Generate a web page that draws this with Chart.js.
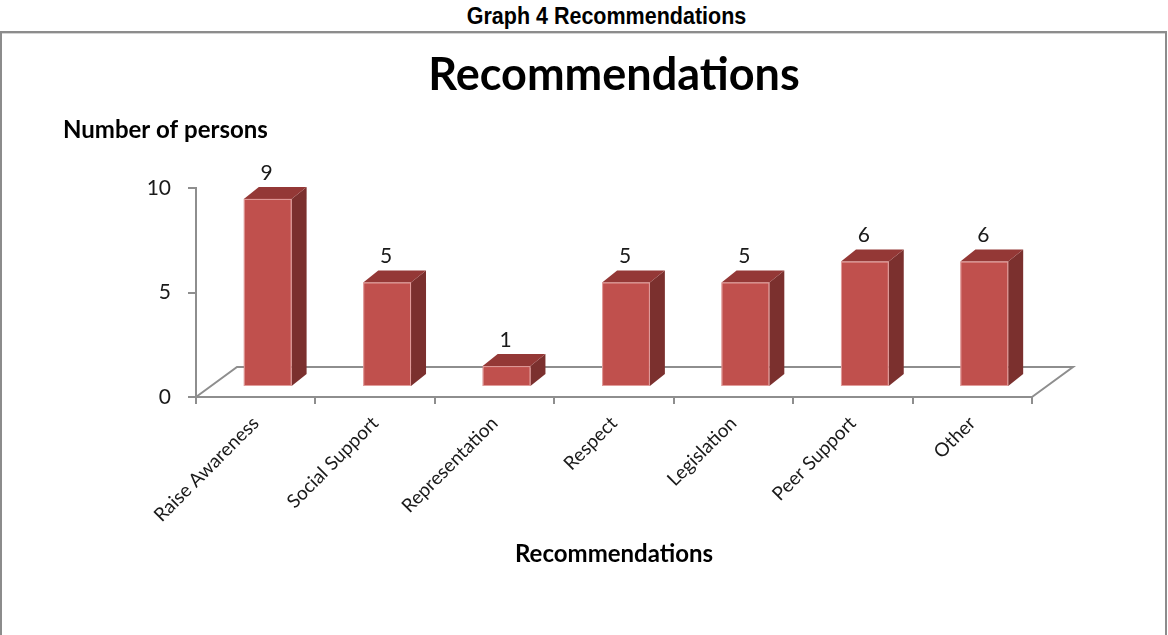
<!DOCTYPE html>
<html>
<head>
<meta charset="utf-8">
<title>Graph 4 Recommendations</title>
<script src="https://cdn.jsdelivr.net/npm/chart.js@4.4.0/dist/chart.umd.min.js"></script>
<style>
  body { margin: 0; background: #fff; }
  #head {
    position: absolute; left: 45px; top: 4px; width: 1123px;
    text-align: center; line-height: 32px;
    font: bold 21.5px "Liberation Sans", Arial, sans-serif; color: #000;
    transform: scaleY(1.12);
  }
  #box {
    position: absolute; left: 0; top: 31px; width: 1167px; height: 610px;
    box-sizing: border-box; border: 2px solid #8c8c8c; border-bottom: 0;
    box-shadow: inset 0 1px 0 #d4d4d4;
  }
  #c { position: absolute; left: 0; top: 0; }
</style>
</head>
<body>
<div id="head">Graph 4 Recommendations</div>
<div id="box"><canvas id="c" width="1163" height="602"></canvas></div>
<script>
const categories = ['Raise Awareness', 'Social Support', 'Representation', 'Respect', 'Legislation', 'Peer Support', 'Other'];
const persons = [9, 5, 1, 5, 5, 6, 6];
const yTicks = [0, 5, 10];

const FONT = 'Lato, "Open Sans", sans-serif';
const axisGrey = '#8e8e8e';

// floor depth, bar shift into the floor, bar thickness
const floorDepth = { dx: 41, dy: -30 };
const barShift = { dx: 12, dy: -10 };
const barDepth = { dx: 15, dy: -12 };

function poly(ctx, pts, fill) {
  ctx.beginPath();
  ctx.moveTo(pts[0][0], pts[0][1]);
  for (let i = 1; i < pts.length; i++) ctx.lineTo(pts[i][0], pts[i][1]);
  ctx.closePath();
  ctx.fillStyle = fill;
  ctx.fill();
}

const box3d = {
  id: 'box3d',
  beforeDatasetsDraw(chart) {
    const { ctx, chartArea: a } = chart;
    ctx.save();
    ctx.strokeStyle = axisGrey;
    ctx.lineWidth = 2;
    ctx.beginPath();
    ctx.moveTo(a.left, a.bottom);
    ctx.lineTo(a.left + floorDepth.dx, a.bottom + floorDepth.dy);
    ctx.lineTo(a.right + floorDepth.dx, a.bottom + floorDepth.dy);
    ctx.lineTo(a.right, a.bottom);
    ctx.stroke();
    ctx.restore();
  },
  afterDatasetsDraw(chart) {
    const ctx = chart.ctx;
    const meta = chart.getDatasetMeta(0);
    ctx.save();
    meta.data.forEach((bar, i) => {
      const p = bar.getProps(['x', 'y', 'base', 'width'], true);
      const l = p.x - p.width / 2 + barShift.dx;
      const r = p.x + p.width / 2 + barShift.dx;
      const t = p.y + barShift.dy;
      const b = p.base + barShift.dy;
      // side
      poly(ctx, [[r, t], [r + barDepth.dx, t + barDepth.dy], [r + barDepth.dx, b + barDepth.dy], [r, b]], '#7b302e');
      // top
      poly(ctx, [[l, t], [l + barDepth.dx, t + barDepth.dy], [r + barDepth.dx, t + barDepth.dy], [r, t]], '#943836');
      // front
      ctx.fillStyle = '#c0504d';
      ctx.fillRect(l, t, r - l, b - t);
      ctx.strokeStyle = 'rgba(240,190,188,0.7)';
      ctx.lineWidth = 1;
      ctx.strokeRect(l + 0.5, t + 0.5, r - l - 1, b - t - 1);
      // value label
      ctx.fillStyle = '#1a1a1a';
      ctx.font = '21px ' + FONT;
      ctx.textAlign = 'center';
      ctx.textBaseline = 'middle';
      ctx.fillText(String(persons[i]), (l + r) / 2 - 1, t - 26);
    });
    ctx.restore();
  }
};

new Chart(document.getElementById('c'), {
  type: 'bar',
  data: {
    labels: categories,
    datasets: [{
      label: 'Number of persons',
      data: persons,
      backgroundColor: 'rgba(0,0,0,0)',
      borderWidth: 0,
      categoryPercentage: 1,
      barPercentage: 0.4
    }]
  },
  plugins: [box3d],
  options: {
    responsive: false,
    animation: false,
    layout: { padding: { left: 61, right: 133, top: 0, bottom: 66.6 } },
    plugins: {
      legend: { display: false },
      tooltip: { enabled: false },
      title: {
        display: true,
        fullSize: false,
        text: 'Recommendations',
        color: '#000',
        font: { family: FONT, size: 45, weight: 'bold', lineHeight: 1.2 },
        padding: { top: 15, bottom: 0 }
      },
      subtitle: {
        display: true,
        align: 'start',
        text: 'Number of persons',
        color: '#000',
        font: { family: FONT, size: 24, weight: 'bold', lineHeight: 1.2 },
        padding: { top: 13.6, bottom: 43.6 }
      }
    },
    scales: {
      x: {
        afterFit(scale) { scale.height = 171.4; },
        grid: { drawOnChartArea: false, color: axisGrey, lineWidth: 2, tickLength: 7 },
        border: { color: axisGrey, width: 2 },
        ticks: {
          autoSkip: false, minRotation: 45, maxRotation: 45, padding: 8,
          color: '#1a1a1a', font: { family: FONT, size: 19 }
        },
        title: {
          display: true,
          text: 'Recommendations',
          color: '#000',
          font: { family: FONT, size: 24, weight: 'bold', lineHeight: 1.2 },
          padding: { top: 0, bottom: 0 }
        }
      },
      y: {
        min: yTicks[0],
        max: yTicks[yTicks.length - 1],
        afterFit(scale) { scale.width = 133; },
        afterBuildTicks(scale) { scale.ticks = yTicks.map(v => ({ value: v })); },
        grid: { drawOnChartArea: false, color: axisGrey, lineWidth: 2, tickLength: 8 },
        border: { color: axisGrey, width: 2 },
        ticks: { padding: 17, color: '#1a1a1a', font: { family: FONT, size: 21 } }
      }
    }
  }
});
</script>
</body>
</html>
